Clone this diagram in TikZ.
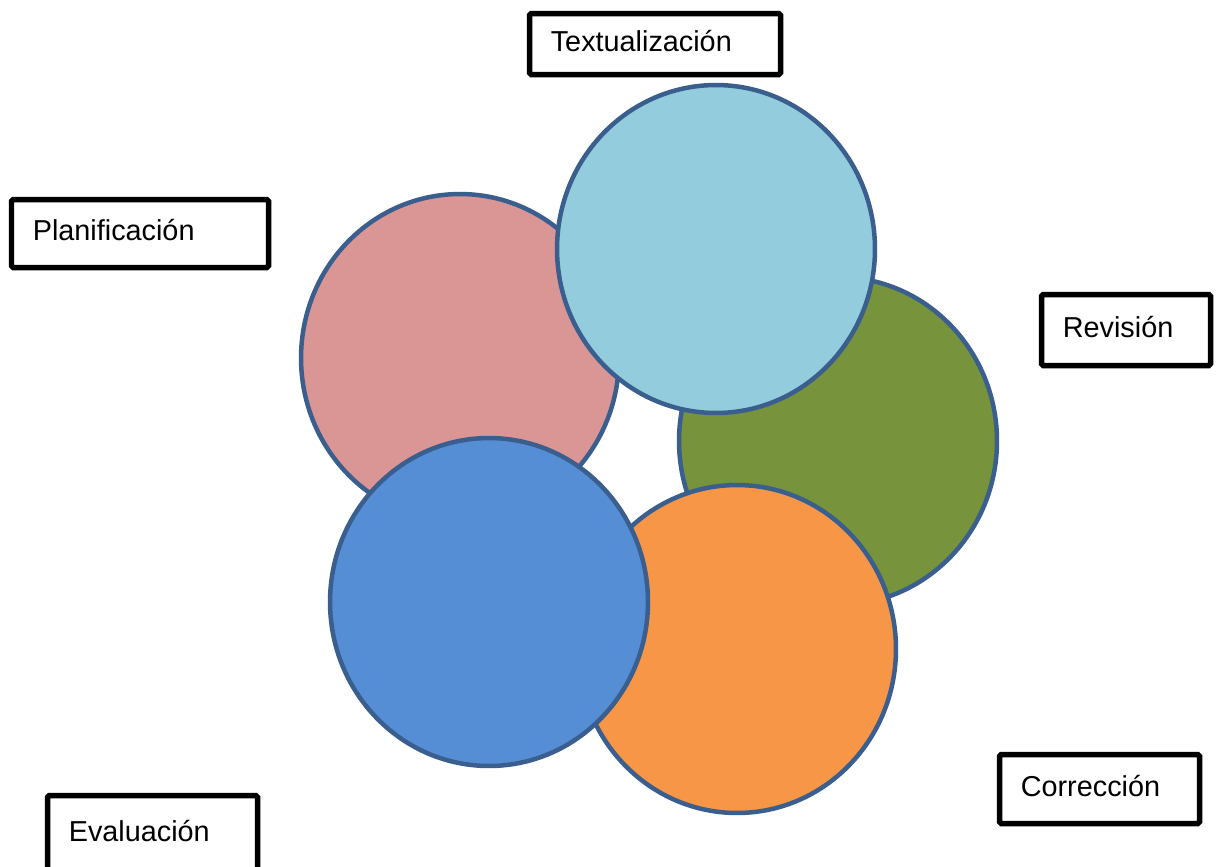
\documentclass[tikz,border=0pt]{standalone}
\usepackage{fontspec}
\setmainfont{Liberation Sans}
\usetikzlibrary{shapes.geometric, positioning}

\definecolor{rim}{HTML}{3A5F8E}
\definecolor{planc}{HTML}{D99694}
\definecolor{textc}{HTML}{93CDDD}
\definecolor{revc}{HTML}{77933C}
\definecolor{corc}{HTML}{F79646}
\definecolor{evalc}{HTML}{558ED5}

\begin{document}
\begin{tikzpicture}[x=0.02cm, y=-0.02cm,
  bub/.style={ellipse, draw=rim, line width=0.09cm, inner sep=0pt,
    minimum width=6.36cm, minimum height=6.56cm},
  tag/.style={draw, line width=0.11cm, rounded corners=1pt, anchor=north west,
    align=left, inner xsep=0.426cm, inner ysep=0pt, outer sep=0pt,
    text height=0.44cm, text depth=0.16cm, font=\fontsize{16.4}{19}\selectfont}]
  \def\px{0.02cm}
  \useasboundingbox (0,0) rectangle (1219,866);
  \clip (0,0) rectangle (1219,866);
  % Circles, back to front
  \foreach \name/\cx/\cy/\col in {
    plan/460/358/planc,
    rev/838/441/revc,
    text/716/249/textc,
    cor/737/649/corc,
    eval/489/602/evalc}{
    \node[bub, fill=\col] (\name-c) at (\cx,\cy) {};
  }
  % Label boxes
  \foreach \name/\bx/\by/\w/\h/\txt in {
    text/529.5/13.5/251/61/Textualización,
    plan/11.5/199.5/257/68/Planificación,
    rev/1041.5/294.5/169/71/Revisión,
    cor/999.5/754.5/200/69/Corrección,
    eval/47.5/795.5/210/77/Evaluación}{
    \pgfmathsetmacro\tw{(\w-42.6)*0.02}
    \node[tag, minimum width=\w*\px, minimum height=\h*\px, text width=\tw cm]
      (\name) at (\bx,\by) {\txt};
  }
\end{tikzpicture}
\end{document}
